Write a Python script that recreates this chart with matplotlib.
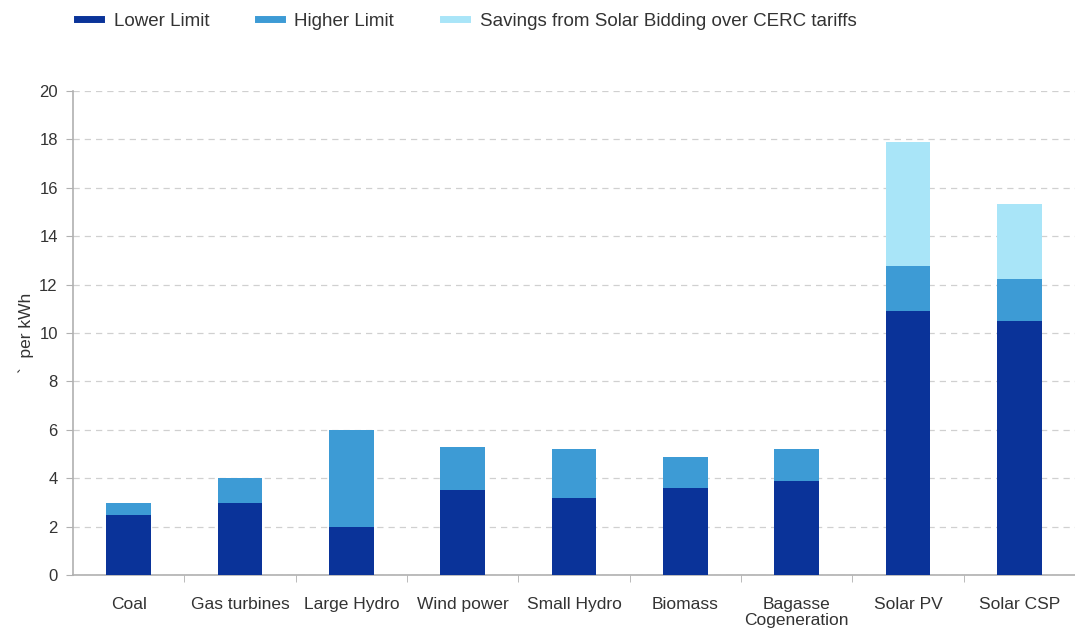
import numpy as np
import matplotlib.pyplot as plt
from matplotlib.lines import Line2D

plt.rcParams['font.family'] = ['Liberation Sans', 'DejaVu Sans']

categories = ['Coal', 'Gas turbines', 'Large Hydro', 'Wind power', 'Small Hydro',
              'Biomass', 'Bagasse\nCogeneration', 'Solar PV', 'Solar CSP']
lower_limit = [2.5, 3.0, 2.0, 3.5, 3.2, 3.6, 3.9, 10.9, 10.5]
higher_limit = [3.0, 4.0, 6.0, 5.3, 5.2, 4.9, 5.2, 12.75, 12.25]
# top of the solar bidding savings segment (only for solar)
savings_top = [0, 0, 0, 0, 0, 0, 0, 17.9, 15.35]

c_low = '#0a3399'
c_high = '#3d9bd5'
c_sav = '#a9e5f8'
grey = '#b0b0b0'

lower = np.array(lower_limit)
higher = np.array(higher_limit)
top = np.array(savings_top)
x = np.arange(len(categories))

fig = plt.figure(figsize=(10.75, 6.32), dpi=100)
ax = fig.add_axes([0.068, 0.09, 0.932, 0.766])

w = 0.4
ax.bar(x, lower, w, color=c_low, zorder=3)
ax.bar(x, higher - lower, w, bottom=lower, color=c_high, zorder=3)
ax.bar(x, np.where(top > 0, top - higher, 0), w, bottom=higher, color=c_sav, zorder=3)

ax.set_xlim(-0.5, len(categories) - 0.5)
ax.set_ylim(0, 20)
ax.set_yticks(np.arange(0, 21, 2))
ax.yaxis.grid(True, linestyle=(0, (5, 4)), color='#d0d0d0', linewidth=0.9, zorder=0)

ax.set_xticks(x)
ax.set_xticklabels(categories, fontsize=12.5, color='#333333', linespacing=1.05,
                   va='top')
ax.tick_params(axis='x', length=0, pad=16)
ax.set_xticks(np.arange(0.5, len(categories) - 0.5), minor=True)
ax.tick_params(axis='x', which='minor', length=5, color=grey)
ax.tick_params(axis='y', length=5, color=grey, labelsize=12, labelcolor='#333333', pad=6)

for s in ['top', 'right']:
    ax.spines[s].set_visible(False)
for s in ['left', 'bottom']:
    ax.spines[s].set_color(grey)
    ax.spines[s].set_linewidth(1.2)

ax.set_ylabel('`  per kWh', fontsize=12.5, color='#333333', labelpad=4)

handles = [Line2D([0], [0], color=c, lw=5) for c in (c_low, c_high, c_sav)]
labels = ['Lower Limit', 'Higher Limit', 'Savings from Solar Bidding over CERC tariffs']
fig.legend(handles, labels, loc='upper left', bbox_to_anchor=(0.056, 1.007), ncol=3,
           frameon=False, fontsize=13.5, handlelength=1.3, columnspacing=2.6,
           handletextpad=0.65, labelcolor='#333333')

fig.savefig('out.png', dpi=100)
